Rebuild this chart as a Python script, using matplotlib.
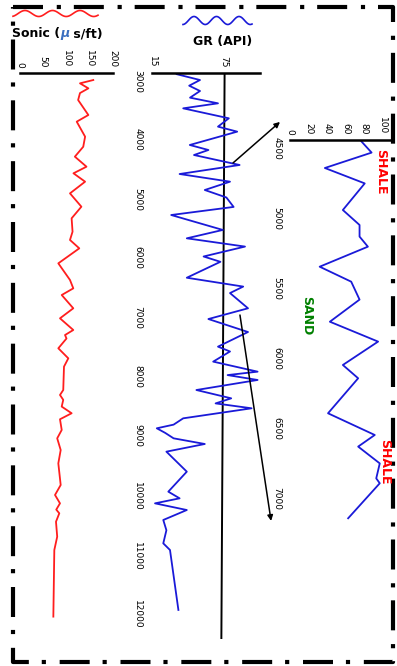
import numpy as np
import matplotlib.pyplot as plt
from matplotlib.lines import Line2D

W, H = 397, 666

# GR log (API) vs depth (ft)
gr_depth = [3020, 3119, 3215, 3305, 3418, 3514, 3599, 3768, 3909, 3994,
            4220, 4305, 4390, 4559, 4712, 4842, 4983, 5110, 5270, 5407,
            5660, 5802, 5942, 6110, 6200, 6470, 6620, 6730, 6988, 7170,
            7390, 7638, 7720, 7892, 8062, 8120, 8203, 8373, 8514, 8600,
            8683, 8853, 8960, 9022, 9100, 9192, 9288, 9418, 9757, 10096,
            10209, 10294, 10407, 10576, 10750, 10972, 11085, 12101]
gr_api = [35.6, 55, 46, 55, 46.7, 70, 41, 79, 70, 86,
          46.5, 62, 50, 88, 38, 80, 59, 77, 83, 31,
          74, 44, 92.5, 58, 72, 44, 91, 80, 95, 62,
          95, 70, 80, 66, 103, 78, 103, 52, 81, 68,
          98, 41, 33, 19, 26, 33, 59, 27, 44, 28.6,
          38, 17.5, 44, 24.4, 27, 24.4, 30, 37]

# sonic log (us/ft)
son_depth = [3119, 3175, 3260, 3340, 3458, 3712, 3825, 4079, 4250, 4418,
             4588, 4700, 4842, 5040, 5266, 5463, 5690, 5830, 5972, 6226,
             6508, 6650, 6763, 6988, 7158, 7356, 7441, 7500, 7666, 7836,
             7977, 8373, 8457, 8540, 8654, 8767, 8869, 9050, 9192, 9390,
             9616, 9983, 10152, 10294, 10400, 10463, 10605, 10859, 11085, 12214]
son_val = [157.6, 129, 147, 129, 125, 147, 122, 140, 136, 118,
           143, 115, 140, 107.5, 132, 111, 113, 107.5, 127.5, 82.4,
           107.5, 114.6, 89.7, 114.6, 86, 114.6, 96.8, 100, 82.4, 103.9,
           94.6, 93, 86, 93, 89.7, 111, 86, 89.7, 80, 87.5,
           82.4, 87.5, 75.3, 86, 78, 84.5, 77.4, 80, 73.8, 71.7]

# zoomed GR section 4500-7200 ft
zoom_depth = [4510, 4590, 4700, 4810, 5000, 5107, 5190, 5262, 5405, 5512,
              5640, 5798, 5940, 6107, 6202, 6452, 6607, 6690, 6810, 6917,
              6952, 7202]
zoom_gr = [77, 88, 37.6, 80.6, 57, 75, 75, 84, 32, 66,
           75, 43, 95, 57, 73.5, 41, 91.4, 73.5, 96.8, 93,
           96.8, 62.7]

# shale base line on the GR track
base_gr = [75.5, 72.8]
base_depth = [3000, 12600]

depth_ticks = list(range(3000, 12001, 1000))
zoom_ticks = list(range(4500, 7001, 500))
gr_ticks = [15, 75]
son_ticks = [0, 50, 100, 150, 200]
zoom_xticks = [0, 20, 40, 60, 80, 100]

fig = plt.figure(figsize=(W / 100, H / 100), dpi=100)


def box(x0, y0, x1, y1):
    return [x0 / W, 1 - y1 / H, (x1 - x0) / W, (y1 - y0) / H]


def fx(x):
    return x / W


def fy(y):
    return 1 - y / H


def log_track(ax, xlim, ylim, xticks, yticks, xpad, ypad):
    ax.set_xlim(*xlim)
    ax.set_ylim(ylim[1], ylim[0])
    for s in ['left', 'right', 'bottom']:
        ax.spines[s].set_visible(False)
    ax.spines['top'].set_linewidth(1.8)
    ax.xaxis.tick_top()
    ax.set_xticks(xticks)
    ax.set_yticks(yticks)
    ax.tick_params(axis='x', length=0, labelsize=6.5, pad=xpad)
    ax.tick_params(axis='y', length=0, labelsize=6.5, pad=ypad)
    for t in ax.get_xticklabels() + ax.get_yticklabels():
        t.set_rotation(-90)
    ax.patch.set_visible(False)


blue = '#1a1ad8'
red = '#ff1e1e'
curve = dict(lw=1.3, solid_joinstyle='round')

ax_son = fig.add_axes(box(20, 73, 113, 639.4))
log_track(ax_son, (0, 200), (3000, 12600), son_ticks, [], 4, 4)
ax_son.plot(son_val, son_depth, color=red, **curve)

ax_gr = fig.add_axes(box(152, 73, 260, 639.4))
log_track(ax_gr, (15, 105), (3000, 12600), gr_ticks, depth_ticks, 4, 7)
ax_gr.plot(base_gr, base_depth, color='black', lw=1.4)
ax_gr.plot(gr_api, gr_depth, color=blue, **curve)

ax_zm = fig.add_axes(box(290, 140, 392, 532))
log_track(ax_zm, (0, 110), (4500, 7300), zoom_xticks, zoom_ticks, 4, 6)
ax_zm.plot(zoom_gr, zoom_depth, color=blue, **curve)

arrow = dict(arrowstyle='-|>', color='black', lw=1.1, mutation_scale=8,
             shrinkA=0, shrinkB=0)
ax_zm.annotate('', xy=(-10.8, 4371), xycoords='data',
               xytext=(82.5, 4525), textcoords=ax_gr.transData,
               arrowprops=arrow, annotation_clip=False)
ax_zm.annotate('', xy=(-20.4, 7221), xycoords='data',
               xytext=(88.3, 7102), textcoords=ax_gr.transData,
               arrowprops=arrow, annotation_clip=False)

lith = dict(rotation=-90, fontweight='bold', fontsize=9, ha='center',
            va='center')
fig.text(fx(380.5), fy(172), 'SHALE', color='red', **lith)
fig.text(fx(307), fy(316), 'SAND', color='green', **lith)
fig.text(fx(385), fy(462), 'SHALE', color='red', **lith)

head = dict(fontweight='bold', fontsize=9)
fig.text(fx(222.7), fy(41), 'GR (API)', ha='center', va='center', **head)
t1 = fig.text(fx(12), fy(34), 'Sonic (', ha='left', va='center', **head)
t2 = ax_son.annotate('\u03bc', xy=(1, 0), xycoords=t1, ha='left', va='bottom',
                     color='#3a6fc0', fontstyle='italic', **head)
ax_son.annotate(' s/ft)', xy=(1, 0), xycoords=t2, ha='left', va='bottom', **head)

# little curve symbols above the track titles
xs = np.linspace(13, 98, 120)
ys = 13.5 - 3 * np.cos(2 * np.pi * (xs - 25) / 27.5)
fig.add_artist(Line2D(fx(xs), fy(ys), color=red, lw=1.2))
xs = np.linspace(183, 252, 120)
ys = 20.5 - 4 * np.cos(2 * np.pi * (xs - 194) / 22.5)
fig.add_artist(Line2D(fx(xs), fy(ys), color=blue, lw=1.2))

# dash-dot frame
frame_x = np.array([12.5, 392.5, 392.5, 12.5, 12.5])
frame_y = np.array([7, 7, 662, 662, 7])
fig.add_artist(Line2D(fx(frame_x), fy(frame_y), color='black', lw=3,
                      dashes=(7.2, 3.3, 1, 3.1), solid_capstyle='butt',
                      dash_capstyle='butt'))

fig.savefig('out.png', dpi=100)
